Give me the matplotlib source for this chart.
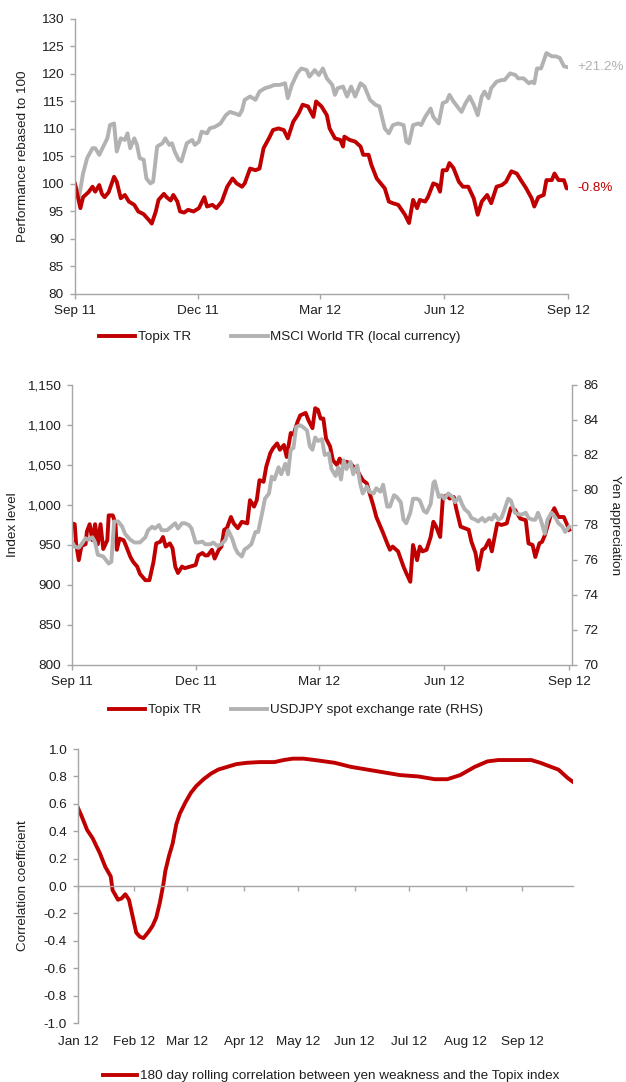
import pandas as pd
import matplotlib
matplotlib.use("Agg")
import matplotlib.pyplot as plt
import matplotlib.dates as mdates
from matplotlib.lines import Line2D
from matplotlib.ticker import FuncFormatter, FormatStrFormatter

plt.rcParams['font.family'] = ['Liberation Sans', 'DejaVu Sans']
plt.rcParams['axes.unicode_minus'] = False

RED = '#C00000'
GREY = '#B2B2B2'
AXIS = '#A6A6A6'
TEXT = '#1F1F1F'
FS = 9.7

# ---- panel 1: performance rebased to 100 (days since 1 Sep 2011)
topix_days = [0, 4, 6, 10, 13, 15, 18, 20, 22, 25, 29, 31, 34, 37, 40, 44, 47, 51, 55, 57,
              60, 62, 66, 68, 71, 73, 76, 78, 81, 84, 88, 92, 96, 98, 102, 105, 109, 113, 117, 120,
              124, 126, 130, 134, 137, 140, 144, 147, 151, 155, 158, 162, 166, 169, 173, 177, 179, 183, 187, 189,
              193, 197, 199, 200, 204, 208, 212, 214, 218, 220, 224, 228, 230, 233, 236, 240, 245, 248, 251, 254,
              256, 260, 262, 266, 269, 271, 273, 276, 278, 281, 285, 288, 292, 296, 299, 302, 306, 309, 313, 317,
              320, 324, 328, 331, 335, 339, 341, 344, 348, 350, 354, 356, 359, 363, 365, 366]
topix_perf = [100.0, 95.6, 97.6, 98.5, 99.5, 98.6, 99.8, 98.2, 97.6, 98.5, 101.3, 100.4, 97.4, 98.0, 96.8, 96.2, 95.0, 94.5, 93.4, 92.8,
              95.0, 97.1, 98.2, 97.6, 97.0, 98.0, 96.8, 95.0, 94.8, 95.3, 95.0, 95.6, 97.6, 95.9, 96.2, 95.6, 96.8, 99.5, 101.0, 100.1,
              99.5, 100.1, 102.8, 102.5, 102.8, 106.5, 108.3, 109.8, 110.1, 109.8, 108.3, 111.3, 112.8, 114.4, 114.1, 112.2, 115.0, 114.1, 112.5, 110.1,
              108.3, 108.0, 106.8, 108.6, 108.0, 107.7, 106.8, 105.3, 105.3, 103.5, 101.0, 99.8, 99.2, 96.8, 96.5, 96.2, 94.4, 92.9, 97.1, 95.6,
              97.1, 96.8, 97.6, 100.1, 99.8, 98.6, 102.5, 102.5, 103.8, 102.9, 100.4, 99.5, 99.5, 97.4, 94.4, 96.8, 98.0, 96.5, 99.5, 99.8,
              100.4, 102.3, 101.9, 100.7, 99.2, 97.4, 95.9, 97.6, 98.0, 100.7, 100.7, 101.9, 100.7, 100.7, 99.2, 99.2]

msci_days = [0, 3, 6, 9, 13, 15, 18, 21, 24, 26, 29, 31, 34, 37, 39, 41, 44, 46, 48, 51,
             53, 56, 58, 61, 65, 67, 70, 72, 74, 77, 79, 83, 87, 89, 92, 94, 98, 100, 104, 108,
             112, 115, 119, 122, 124, 126, 130, 134, 137, 141, 145, 148, 152, 156, 158, 161, 165, 168, 172, 174,
             178, 181, 184, 187, 191, 193, 195, 199, 202, 205, 208, 212, 215, 219, 223, 226, 230, 233, 236, 240,
             244, 246, 248, 251, 255, 257, 260, 264, 266, 270, 273, 276, 278, 281, 285, 287, 290, 293, 296, 299,
             302, 304, 307, 309, 313, 317, 319, 323, 327, 329, 333, 337, 339, 341, 343, 346, 350, 354, 357, 360,
             363, 366]
msci_perf = [100.0, 97.6, 101.9, 104.7, 106.5, 106.5, 105.3, 106.8, 108.3, 110.7, 111.0, 105.9, 108.3, 108.0, 109.2, 106.5, 108.3, 107.1, 104.7, 104.4,
             101.0, 100.1, 100.4, 106.8, 107.4, 108.3, 107.1, 107.4, 105.9, 104.4, 104.1, 107.4, 108.0, 107.1, 107.7, 109.5, 109.2, 110.1, 110.4, 111.0,
             112.5, 113.1, 112.8, 112.5, 113.4, 115.3, 115.9, 115.3, 116.8, 117.4, 117.7, 118.0, 118.0, 118.3, 115.6, 118.0, 120.1, 121.0, 120.7, 119.5,
             120.7, 119.8, 121.0, 119.2, 118.0, 116.2, 117.4, 117.7, 115.9, 117.7, 115.9, 118.3, 117.7, 115.3, 114.4, 114.1, 110.1, 109.2, 110.7, 111.0,
             110.7, 107.7, 107.4, 110.7, 111.0, 110.7, 112.2, 113.7, 112.2, 111.0, 114.7, 115.0, 116.2, 115.0, 113.7, 113.1, 114.7, 115.9, 114.4, 112.5,
             115.9, 116.8, 115.6, 117.4, 118.6, 118.9, 118.9, 120.1, 119.8, 119.2, 119.2, 118.3, 118.6, 118.3, 121.0, 121.0, 123.8, 123.2, 123.2, 122.9,
             121.4, 121.2]

# ---- panel 2: Topix index level and USDJPY (days since 1 Sep 2011)
index_days = [0, 2, 3, 5, 7, 10, 11, 13, 15, 17, 19, 21, 23, 26, 27, 30, 32, 33, 35, 38,
              40, 43, 45, 48, 50, 53, 54, 57, 60, 62, 65, 67, 69, 72, 74, 76, 78, 81, 83, 87,
              91, 93, 96, 98, 100, 103, 105, 108, 110, 112, 114, 117, 119, 122, 125, 129, 131, 134, 136, 138,
              141, 143, 146, 148, 151, 153, 156, 158, 161, 163, 166, 168, 172, 174, 177, 179, 181, 183, 185, 187,
              190, 192, 195, 197, 200, 202, 205, 207, 209, 212, 214, 217, 219, 222, 224, 227, 229, 232, 234, 236,
              240, 244, 246, 249, 251, 254, 256, 258, 261, 264, 266, 268, 271, 273, 276, 278, 281, 283, 286, 289,
              292, 294, 297, 299, 302, 304, 307, 309, 313, 316, 320, 323, 326, 330, 334, 336, 339, 341, 344, 346,
              348, 352, 355, 358, 362, 364, 366]
topix_level = [977, 976, 952, 931, 949, 951, 967, 976, 956, 976, 951, 976, 945, 956, 987, 987, 977, 944, 958, 956,
               948, 935, 929, 923, 914, 908, 906, 906, 929, 952, 954, 960, 948, 952, 946, 923, 915, 923, 921, 923,
               925, 937, 940, 937, 937, 944, 933, 944, 948, 969, 971, 985, 977, 971, 979, 977, 1006, 998, 1006, 1031,
               1029, 1048, 1065, 1071, 1077, 1069, 1075, 1060, 1090, 1088, 1104, 1112, 1115, 1106, 1096, 1121, 1119, 1108, 1108, 1083,
               1073, 1056, 1050, 1058, 1048, 1054, 1052, 1048, 1046, 1037, 1031, 1027, 1015, 998, 985, 973, 965, 952, 944, 948,
               942, 923, 915, 904, 950, 931, 948, 942, 944, 960, 979, 973, 960, 1010, 1012, 1008, 1010, 994, 973, 971,
               969, 954, 940, 919, 944, 946, 956, 942, 977, 975, 977, 996, 994, 983, 981, 952, 950, 935, 952, 954,
               962, 985, 996, 985, 985, 977, 969]

fx_days = [0, 2, 5, 7, 10, 12, 15, 17, 19, 23, 27, 29, 31, 34, 37, 39, 43, 46, 50, 54,
           56, 59, 61, 64, 66, 70, 73, 76, 78, 81, 83, 86, 88, 91, 93, 96, 98, 102, 104, 107,
           110, 113, 115, 118, 120, 122, 125, 127, 129, 132, 135, 137, 140, 142, 145, 147, 149, 152, 154, 157,
           159, 161, 163, 165, 168, 170, 173, 175, 177, 179, 181, 184, 186, 189, 191, 194, 196, 198, 200, 202,
           205, 207, 210, 212, 214, 217, 219, 222, 224, 227, 229, 232, 234, 237, 239, 242, 244, 246, 249, 251,
           254, 256, 259, 261, 264, 266, 267, 270, 272, 274, 277, 280, 282, 285, 287, 289, 292, 294, 297, 299,
           302, 304, 307, 309, 311, 314, 316, 318, 321, 323, 326, 329, 331, 334, 336, 339, 341, 343, 345, 348,
           350, 353, 356, 358, 361, 363, 365, 366]
usdjpy = [77.05, 76.76, 76.7, 76.9, 77.24, 77.15, 77.3, 77.0, 76.3, 76.2, 75.8, 75.9, 78.2, 78.2, 77.9, 77.5, 77.15, 77.0, 77.0, 77.3,
          77.7, 77.9, 77.8, 78.0, 77.7, 77.7, 77.9, 78.1, 77.8, 78.1, 78.1, 78.0, 77.8, 77.0, 77.0, 77.05, 76.9, 76.9, 77.0, 76.8,
          76.9, 77.15, 77.7, 77.2, 76.7, 76.4, 76.2, 76.6, 76.7, 76.9, 77.6, 77.6, 78.7, 79.5, 79.8, 80.76, 80.6, 81.3, 80.9, 81.5,
          80.9, 82.3, 82.4, 83.6, 83.7, 83.6, 83.4, 82.5, 82.3, 83.0, 82.8, 82.9, 82.0, 82.1, 81.2, 80.8, 81.3, 80.6, 81.7, 81.2,
          81.6, 80.9, 81.4, 80.4, 79.8, 80.2, 79.9, 79.8, 80.1, 79.9, 80.3, 79.05, 79.05, 79.7, 79.6, 79.3, 78.3, 78.1, 78.7, 79.5,
          79.5, 79.4, 78.8, 78.7, 79.2, 80.4, 80.5, 79.6, 79.7, 79.5, 79.8, 79.6, 79.3, 79.6, 79.2, 78.9, 78.7, 78.4, 78.3, 78.2,
          78.4, 78.2, 78.4, 78.3, 78.6, 78.3, 78.4, 78.8, 79.5, 79.4, 78.7, 78.6, 78.6, 78.7, 78.4, 78.3, 78.3, 78.7, 78.3, 77.5,
          78.3, 78.7, 78.4, 78.1, 77.9, 77.6, 77.8, 77.9]

# ---- panel 3: 180 day rolling correlation (days since 1 Jan 2012)
corr_days = [0, 2, 5, 8, 12, 15, 18, 19, 22, 24, 26, 28, 30, 32, 34, 36, 39, 41, 43, 45,
             47, 48, 50, 52, 54, 56, 59, 62, 65, 69, 73, 77, 82, 87, 93, 100, 108, 113, 118, 124,
             130, 141, 150, 159, 168, 177, 187, 196, 203, 210, 218, 225, 231, 240, 249, 254, 264, 269, 272]
corr = [0.57, 0.51, 0.41, 0.35, 0.24, 0.14, 0.07, -0.03, -0.10, -0.09, -0.06, -0.10, -0.22, -0.34, -0.37, -0.38, -0.33, -0.29, -0.23, -0.12,
        0.02, 0.11, 0.22, 0.31, 0.45, 0.53, 0.61, 0.68, 0.73, 0.78, 0.82, 0.85, 0.87, 0.89, 0.90, 0.905, 0.905, 0.92, 0.93, 0.93,
        0.92, 0.90, 0.87, 0.85, 0.83, 0.81, 0.80, 0.78, 0.78, 0.81, 0.87, 0.91, 0.92, 0.92, 0.92, 0.90, 0.85, 0.79, 0.76]

start_11 = pd.Timestamp('2011-09-01')
start_12 = pd.Timestamp('2012-01-01')
quarter_ticks = pd.to_datetime(['2011-09-01', '2011-12-01', '2012-03-01', '2012-06-01', '2012-09-01'])
month_ticks = pd.date_range('2012-01-01', '2012-09-01', freq='MS')


def to_dates(start, days):
    return start + pd.to_timedelta(days, unit='D')


def style(ax, spines=('left', 'bottom')):
    for name, sp in ax.spines.items():
        sp.set_visible(name in spines)
        sp.set_color(AXIS)
        sp.set_linewidth(1.0)
    ax.tick_params(colors=AXIS, labelcolor=TEXT, labelsize=FS, length=3.5, width=1.0, direction='out', pad=4.5)


fig = plt.figure(figsize=(6.26, 10.82), dpi=100)

# ---- top chart
ax1 = fig.add_axes([0.1198, 0.7283, 0.7875, 0.2542])
style(ax1)
t_dates = to_dates(start_11, topix_days)
m_dates = to_dates(start_11, msci_days)
ax1.plot(m_dates, msci_perf, color=GREY, lw=2.8)
ax1.plot(t_dates, topix_perf, color=RED, lw=2.8)
ax1.set_ylim(80, 130)
ax1.set_yticks(range(80, 131, 5))
ax1.set_xlim(start_11, pd.Timestamp('2012-09-01'))
ax1.set_xticks(quarter_ticks)
ax1.xaxis.set_major_formatter(mdates.DateFormatter('%b %y'))
ax1.set_ylabel('Performance rebased to 100', fontsize=FS, color=TEXT)
ax1.yaxis.set_label_coords(-0.094, 0.5)
ax1.annotate('+21.2%', xy=(m_dates[-1], msci_perf[-1]), xytext=(7, 0), textcoords='offset points',
             va='center', ha='left', color=GREY, fontsize=FS)
ax1.annotate('-0.8%', xy=(t_dates[-1], topix_perf[-1]), xytext=(7, 0), textcoords='offset points',
             va='center', ha='left', color=RED, fontsize=FS)
fig.legend([Line2D([], [], color=RED, lw=2.8), Line2D([], [], color=GREY, lw=2.8)],
           ['Topix TR', 'MSCI World TR (local currency)'],
           loc='center', bbox_to_anchor=(0.447, 0.6885), ncol=2, frameon=False, fontsize=FS,
           handlelength=2.7, handletextpad=0.2, columnspacing=3.0, labelcolor=TEXT)

# ---- middle chart
ax2 = fig.add_axes([0.1150, 0.3854, 0.7987, 0.2588])
style(ax2)
ax2.plot(to_dates(start_11, index_days), topix_level, color=RED, lw=2.8)
ax2.set_ylim(800, 1150)
ax2.set_yticks(range(800, 1151, 50))
ax2.yaxis.set_major_formatter(FuncFormatter(lambda v, p: f'{v:,.0f}'))
ax2.set_xlim(start_11, pd.Timestamp('2012-09-03'))
ax2.set_xticks(quarter_ticks)
ax2.xaxis.set_major_formatter(mdates.DateFormatter('%b %y'))
ax2.set_ylabel('Index level', fontsize=FS, color=TEXT)
ax2.yaxis.set_label_coords(-0.105, 0.5)

ax2r = ax2.twinx()
style(ax2r, spines=('right',))
ax2r.plot(to_dates(start_11, fx_days), usdjpy, color=GREY, lw=2.8)
ax2r.set_ylim(70, 86)
ax2r.set_yticks(range(70, 87, 2))
ax2r.set_ylabel('Yen appreciation', fontsize=FS, color=TEXT, rotation=-90, va='center')
ax2r.yaxis.set_label_coords(1.086, 0.5)
fig.legend([Line2D([], [], color=RED, lw=2.8), Line2D([], [], color=GREY, lw=2.8)],
           ['Topix TR', 'USDJPY spot exchange rate (RHS)'],
           loc='center', bbox_to_anchor=(0.473, 0.3438), ncol=2, frameon=False, fontsize=FS,
           handlelength=2.7, handletextpad=0.2, columnspacing=2.2, labelcolor=TEXT)

# ---- bottom chart
ax3 = fig.add_axes([0.1246, 0.0545, 0.7907, 0.2532])
style(ax3)
c_dates = to_dates(start_12, corr_days)
ax3.plot(c_dates, corr, color=RED, lw=2.8)
ax3.set_ylim(-1, 1)
ax3.set_yticks([i / 10 for i in range(-10, 11, 2)])
ax3.yaxis.set_major_formatter(FormatStrFormatter('%.1f'))
ax3.set_xlim(start_12, c_dates[-1])
ax3.spines['bottom'].set_position(('data', 0))
ax3.set_xticks(month_ticks)
ax3.tick_params(axis='x', labelbottom=False)
sec = ax3.secondary_xaxis('bottom')
sec.set_xticks(mdates.date2num(month_ticks))
sec.xaxis.set_major_formatter(mdates.DateFormatter('%b %y'))
sec.spines['bottom'].set_visible(False)
sec.tick_params(length=0, labelsize=FS, labelcolor=TEXT, pad=9)
ax3.set_ylabel('Correlation coefficient', fontsize=FS, color=TEXT)
ax3.yaxis.set_label_coords(-0.098, 0.5)
fig.legend([Line2D([], [], color=RED, lw=2.8)],
           ['180 day rolling correlation between yen weakness and the Topix index'],
           loc='center', bbox_to_anchor=(0.529, 0.0055), ncol=1, frameon=False, fontsize=FS,
           handlelength=2.5, handletextpad=0.2, labelcolor=TEXT)

fig.savefig('out.png', dpi=100)
